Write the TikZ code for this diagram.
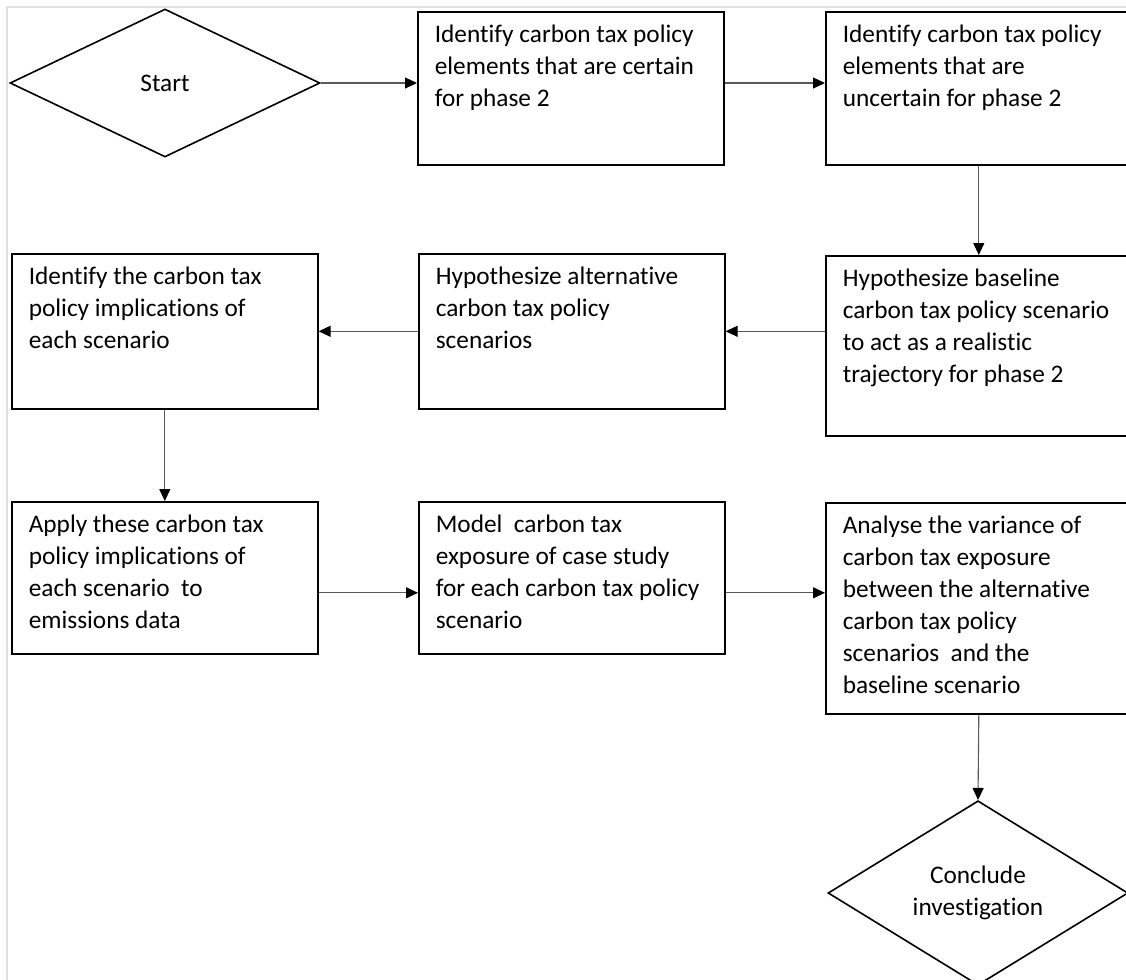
\documentclass[tikz,border=0pt]{standalone}
\usepackage{fontspec}
\setmainfont{Carlito}[Ligatures=NoCommon]
\usepackage{tikz}
\usetikzlibrary{arrows.meta,shapes.geometric}
\newcommand{\boxtxt}[2]{\parbox[t][#1][t]{272pt}{\raggedright\strut #2}}

\begin{document}
\begin{tikzpicture}[x=1pt,y=1pt,
  font=\fontsize{25.3}{32}\selectfont,
  stepbox/.style={draw, line width=1.6pt, anchor=north west, inner xsep=17pt, inner ysep=8pt},
  decision/.style={diamond, draw, line width=1.6pt, inner sep=0pt, align=center},
  flow/.style={draw=black!65, line width=1.1pt, -{Triangle[length=12pt,width=11pt,color=black]}}]

\useasboundingbox (0,0) rectangle (1126,-979);
\clip (0,0) rectangle (1126,-979);
\draw[black!12, line width=2pt] (7,-7) rectangle (1140,-990);

\node[decision, minimum width=310pt, minimum height=148pt] (start) at (165,-83) {Start};
\node[stepbox] (certain) at (417,-11) {\boxtxt{137pt}{Identify carbon tax policy\\elements that are certain\\for phase 2}};
\node[stepbox] (uncertain) at (825,-11) {\boxtxt{137pt}{Identify carbon tax policy\\elements that are\\uncertain for phase 2}};
\node[stepbox] (baseline) at (825,-255) {\boxtxt{164pt}{Hypothesize baseline\\carbon tax policy scenario\\to act as a realistic\\trajectory for phase 2}};
\node[stepbox] (alternative) at (418,-253) {\boxtxt{139pt}{Hypothesize alternative\\carbon tax policy\\scenarios}};
\node[stepbox] (implications) at (11,-253) {\boxtxt{139pt}{Identify the carbon tax\\policy implications of\\each scenario}};
\node[stepbox] (apply) at (11,-501) {\boxtxt{136pt}{Apply these carbon tax\\policy implications of\\each scenario \ to\\emissions data}};
\node[stepbox] (model) at (418,-501) {\boxtxt{136pt}{Model \ carbon tax\\exposure of case study\\for each carbon tax policy\\scenario}};
\node[stepbox] (analyse) at (825,-502) {\boxtxt{195pt}{Analyse the variance of\\carbon tax exposure\\between the alternative\\carbon tax policy\\scenarios \ and the\\baseline scenario}};
\node[decision, minimum width=300pt, minimum height=168pt] (conclude) at (978,-893) {Conclude\\investigation};

\draw[flow] (start.east) -- (start.east -| certain.west);
\draw[flow] (certain.east |- start.east) -- (uncertain.west |- start.east);
\draw[flow] (uncertain.south) -- (baseline.north);
\draw[flow] (baseline.west |- alternative.east) -- (alternative.east);
\draw[flow] (alternative.west) -- (implications.east);
\draw[flow] (implications.south) -- (apply.north);
\draw[flow] ([yshift=-15pt]apply.east) -- ([yshift=-15pt]model.west);
\draw[flow] ([yshift=-15pt]model.east) -- ([yshift=-15pt]model.east -| analyse.west);
\draw[flow] (analyse.south) -- (conclude.north);
\end{tikzpicture}
\end{document}
